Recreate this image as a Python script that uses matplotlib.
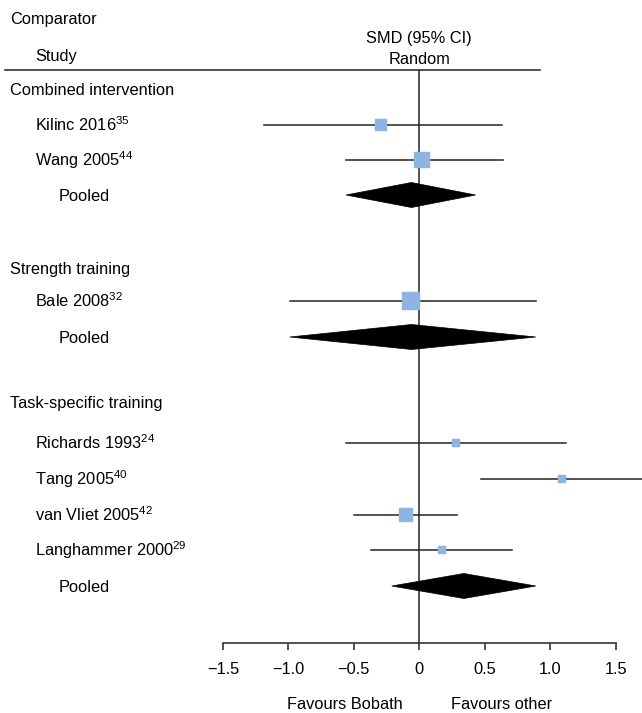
import matplotlib
matplotlib.use("Agg")
import matplotlib.pyplot as plt
from matplotlib.patches import Polygon
from matplotlib.lines import Line2D

plt.rcParams['font.family'] = ['Liberation Sans', 'DejaVu Sans']
plt.rcParams['mathtext.fontset'] = 'custom'
plt.rcParams['mathtext.rm'] = 'Liberation Sans'
plt.rcParams['mathtext.default'] = 'regular'

# ---------------- data ----------------
groups = ["Combined intervention", "Strength training", "Task-specific training"]
study_names = ["Kilinc 2016", "Wang 2005", "Bale 2008", "Richards 1993",
               "Tang 2005", "van Vliet 2005", "Langhammer 2000"]
study_refs = ["35", "44", "32", "24", "40", "42", "29"]
study_group = [0, 0, 1, 2, 2, 2, 2]
study_est = [-0.29, 0.02, -0.06, 0.28, 1.09, -0.10, 0.17]
study_lo = [-1.19, -0.56, -0.99, -0.56, 0.47, -0.50, -0.37]
study_hi = [0.63, 0.64, 0.89, 1.12, 1.72, 0.29, 0.71]
study_weight = [15, 26, 32, 8, 8, 19, 8]
pooled_est = [-0.06, -0.06, 0.34]
pooled_lo = [-0.56, -0.99, -0.21]
pooled_hi = [0.43, 0.89, 0.89]
xticks = [-1.5, -1.0, -0.5, 0, 0.5, 1.0, 1.5]
xticklabels = ["\u22121.5", "\u22121.0", "\u22120.5", "0", "0.5", "1.0", "1.5"]

# ---------------- layout (pixel rows) ----------------
W, H = 642, 713
zero_px, unit_px = 419.3, 130.9
group_y = [89, 268, 402]
study_y = [125, 160, 301, 443, 479, 515, 550]
pooled_y = [195, 337, 586]
axis_y = 643
header_line_y = 70
base_off = 6  # baseline offset from row centre, px

fig = plt.figure(figsize=(W / 100, H / 100), dpi=100)
ax = fig.add_axes([0, 0, 1, 1])
ax.set_xlim((0 - zero_px) / unit_px, (W - zero_px) / unit_px)
ax.set_ylim(H, 0)

fs = 11.8
ytr = ax.get_yaxis_transform()  # x in axes fraction, y in data


def label(xfrac, y, s, **kw):
    ax.text(xfrac, y + base_off, s, transform=ytr, fontsize=fs, va='baseline', **kw)


# header
label(10 / W, 18, "Comparator", ha='left')
label(35 / W, 55, "Study", ha='left')
ax.text(0, 37 + base_off, "SMD (95% CI)", fontsize=fs, va='baseline', ha='center')
ax.text(0, 58 + base_off, "Random", fontsize=fs, va='baseline', ha='center')
ax.add_line(Line2D([5 / W, 540 / W], [header_line_y, header_line_y], transform=ytr,
                   color='#333333', lw=1.2))

# null line
ax.plot([0, 0], [header_line_y, axis_y], color='#333333', lw=1.2, zorder=1)

# groups
for g, y in zip(groups, group_y):
    label(10 / W, y, g, ha='left')

# studies
mcol = '#8DB4E2'
for i in range(len(study_names)):
    y = study_y[i]
    label(35 / W, y, study_names[i] + "$^{" + study_refs[i] + "}$", ha='left')
    ax.plot([study_lo[i], study_hi[i]], [y, y], color='#222222', lw=1.1, zorder=2)
    side_px = 3.18 * study_weight[i] ** 0.5
    ax.plot([study_est[i]], [y], marker='s', markersize=side_px * 0.72,
            markerfacecolor=mcol, markeredgecolor=mcol, markeredgewidth=0.3,
            linestyle='none', zorder=3)

# pooled diamonds
half_h = 12.5
for k in range(len(groups)):
    y = pooled_y[k]
    label(59 / W, y, "Pooled", ha='left')
    poly = Polygon([[pooled_lo[k], y], [pooled_est[k], y - half_h],
                    [pooled_hi[k], y], [pooled_est[k], y + half_h]],
                   closed=True, facecolor='black', edgecolor='black', lw=0.5, zorder=3)
    ax.add_patch(poly)

# bottom axis
for s in ['top', 'left', 'right']:
    ax.spines[s].set_visible(False)
ax.spines['bottom'].set_position(('data', axis_y))
ax.spines['bottom'].set_bounds(-1.5, 1.5)
ax.spines['bottom'].set_color('#333333')
ax.spines['bottom'].set_linewidth(1.2)
ax.set_xticks(xticks)
ax.set_xticklabels(xticklabels, fontsize=fs)
ax.tick_params(axis='x', direction='out', length=5, width=1.2, color='#333333', pad=9)
ax.set_yticks([])

ax.text(-0.57, 709, "Favours Bobath", fontsize=fs, va='baseline', ha='center')
ax.text(0.63, 709, "Favours other", fontsize=fs, va='baseline', ha='center')

fig.savefig("out.png", dpi=100)
